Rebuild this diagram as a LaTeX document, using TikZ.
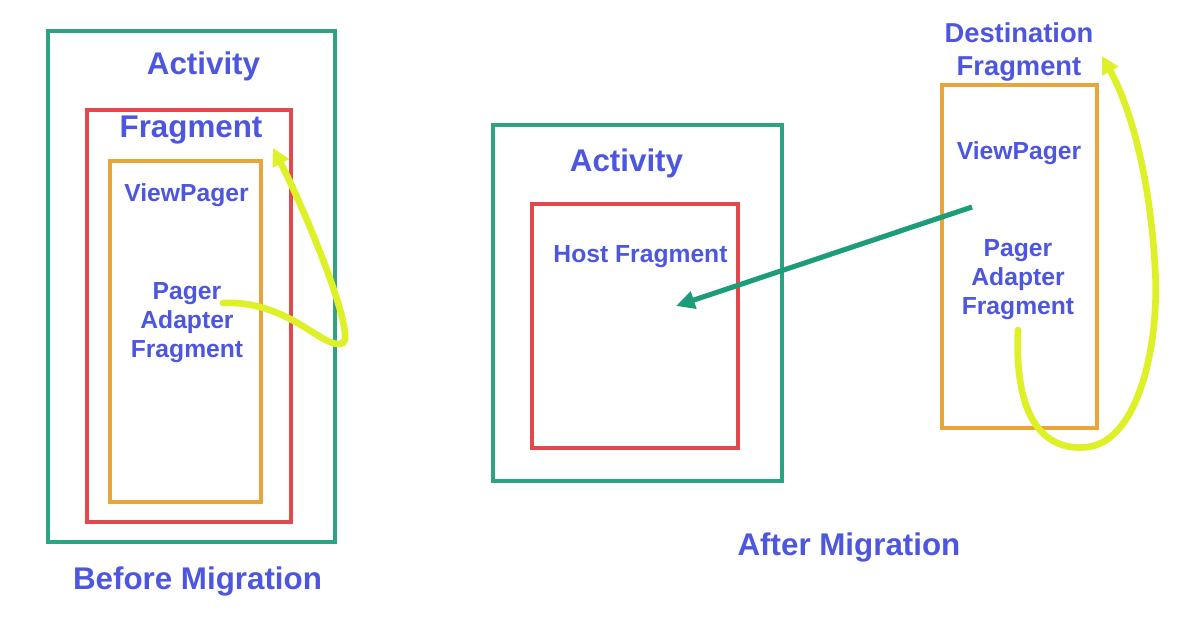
\documentclass[tikz,border=0pt]{standalone}
\usepackage{fontspec}
\setmainfont{Liberation Sans}
\usetikzlibrary{arrows.meta}
\newdimen\pxu \pxu=0.75pt
\definecolor{tgreen}{RGB}{44,163,130}
\definecolor{tred}{RGB}{226,72,76}
\definecolor{torange}{RGB}{232,166,58}
\definecolor{tblue}{RGB}{76,86,222}
\definecolor{tteal}{RGB}{30,156,122}
\definecolor{tyellow}{RGB}{222,240,40}
\begin{document}
\begin{tikzpicture}[x=0.75pt,y=-0.75pt,
  gbox/.style={draw=tgreen, line width=3pt, inner sep=0, minimum width=#1},
  rbox/.style={draw=tred, line width=2.4pt, inner sep=0, minimum width=#1},
  obox/.style={draw=torange, line width=3pt, inner sep=0, minimum width=#1},
  biglbl/.style={text=tblue, inner sep=0, font=\bfseries\fontsize{23.5}{28}\selectfont},
  midlbl/.style={text=tblue, inner sep=0, align=center, font=\bfseries\fontsize{18.5}{21.75}\selectfont},
  destlbl/.style={text=tblue, inner sep=0, align=center, font=\bfseries\fontsize{20.5}{24.75}\selectfont},
  yarrow/.style={draw=tyellow, line width=5pt, line cap=round, -{Triangle[length=13pt,width=13pt]}},
  tarrow/.style={draw=tteal, line width=3.8pt, -{Triangle[length=14pt,width=13pt]}}
]
\fill[white] (0,0) rectangle (1200,627);
\useasboundingbox (0,0) rectangle (1200,627);

% ---------- Before Migration ----------
\node[gbox=287\pxu, minimum height=511\pxu] (actbox1) at (191,286.5) {};
\node[rbox=204\pxu, minimum height=412\pxu] (fragbox1) at (189,316) {};
\node[obox=151\pxu, minimum height=341\pxu] (vpbox1) at (185.5,331.5) {};

\node[biglbl, anchor=base] (act1) at (203.5,75) {Activity};
\node[biglbl, anchor=base] (frag1) at (191,138) {Fragment};
\node[midlbl, anchor=base] (vp1) at (186.5,202) {ViewPager};
\node[midlbl] (paf1) at (187,323) {Pager\\Adapter\\Fragment};
\node[biglbl, anchor=base] (before) at (197.5,589) {Before Migration};

\coordinate (ya1s) at (223,303);
\coordinate (ya1e) at (273,148);
\draw[yarrow] (ya1s) .. controls (290,300) and (325,352) .. (343,343)
  .. controls (356,334) and (305,210) .. (ya1e);

% ---------- After Migration ----------
\node[gbox=289\pxu, minimum height=356\pxu] (actbox2) at (637.5,303) {};
\node[rbox=206\pxu, minimum height=244\pxu] (hostbox) at (635,326) {};
\node[biglbl, anchor=base] (act2) at (626.5,172) {Activity};
\node[midlbl, anchor=base] (host) at (640.5,263) {Host Fragment};
\node[biglbl, anchor=base] (after) at (849,555) {After Migration};

\node[obox=155\pxu, minimum height=343\pxu] (vpbox2) at (1019.5,256.5) {};
\node[destlbl] (dest) at (1019,52) {Destination\\Fragment};
\node[midlbl, anchor=base] (vp2) at (1019,160) {ViewPager};
\node[midlbl] (paf2) at (1018,280) {Pager\\Adapter\\Fragment};

\coordinate (tas) at (972,207);
\coordinate (tae) at (676,306);
\draw[tarrow] (tas) -- (tae);

\coordinate (ya2s) at (1018,330);
\coordinate (ya2e) at (1102,56);
\draw[yarrow] (ya2s) .. controls (1014,420) and (1045,452) .. (1088,447)
  .. controls (1140,440) and (1160,340) .. (1155,267)
  .. controls (1150,180) and (1132,110) .. (ya2e);
\end{tikzpicture}
\end{document}
